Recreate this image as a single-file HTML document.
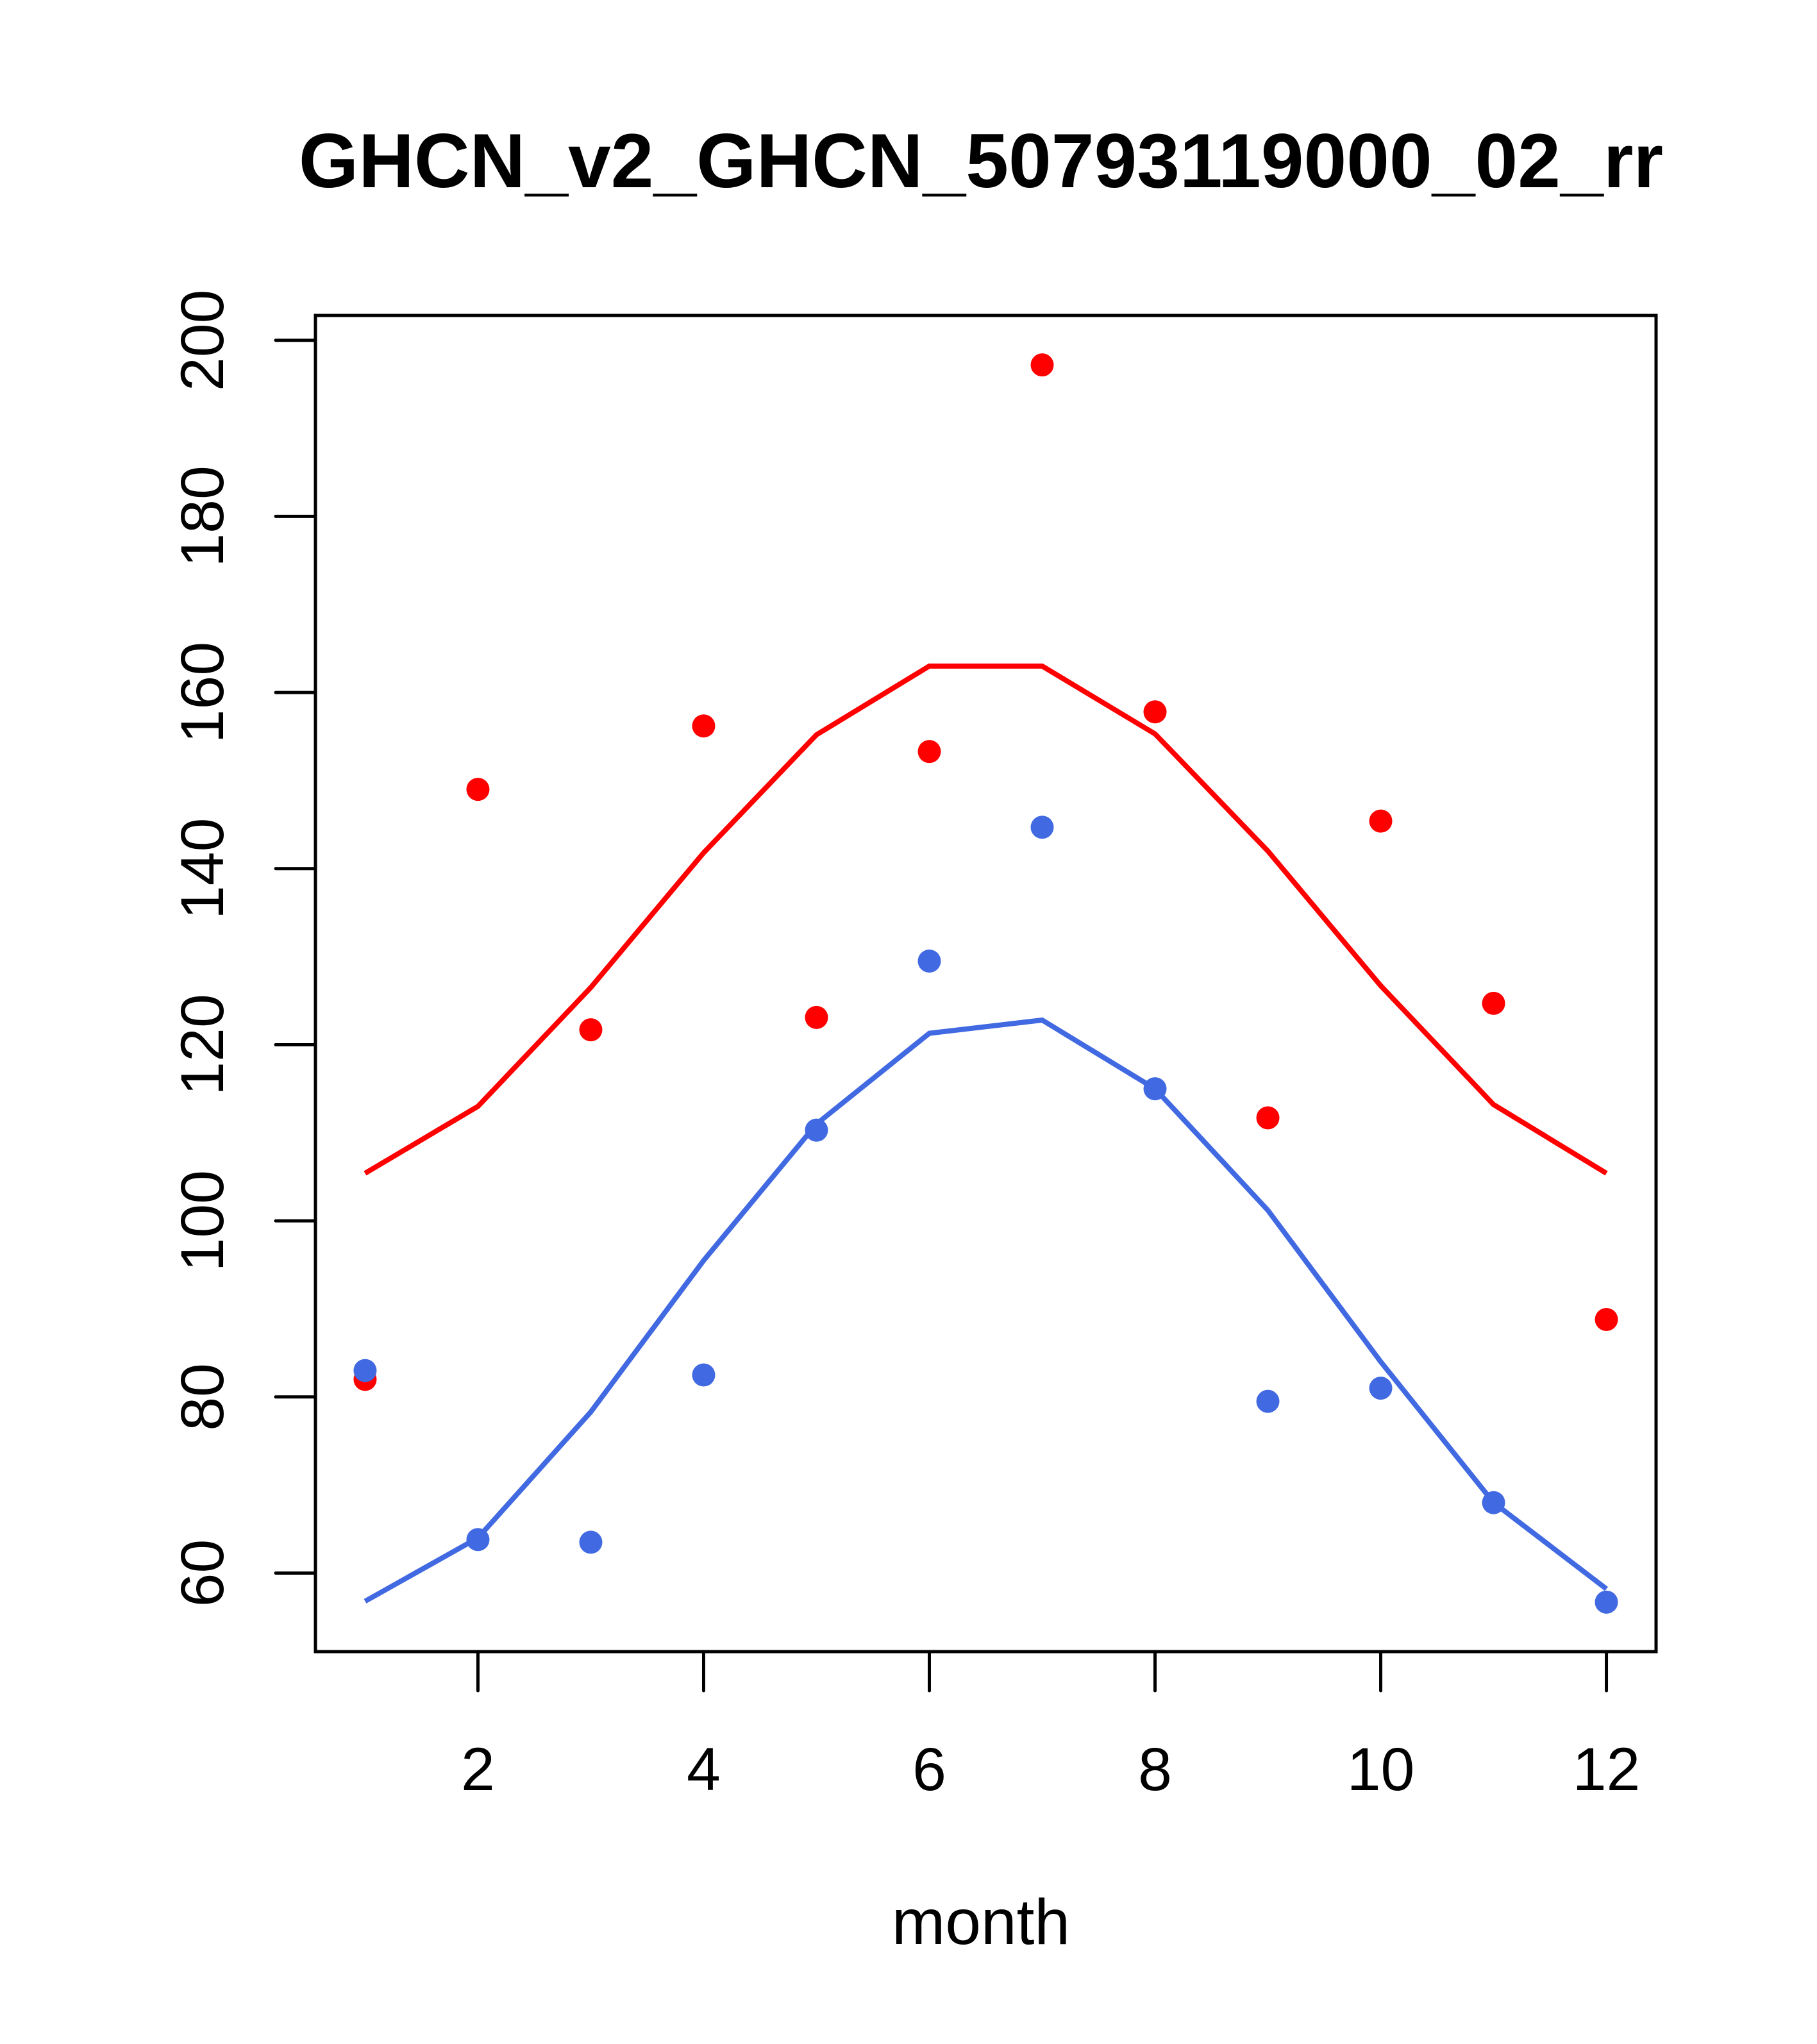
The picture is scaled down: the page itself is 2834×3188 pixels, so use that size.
<!DOCTYPE html>
<html><head><meta charset="utf-8"><style>
body{margin:0;background:#fff}
svg{display:block}
text{font-family:"Liberation Sans",sans-serif;fill:#000}
</style></head><body>
<svg id="chart" width="2834" height="3188" viewBox="0 0 2834 3188" xmlns="http://www.w3.org/2000/svg">
<text x="1530" y="292" font-size="120" font-weight="bold" text-anchor="middle">GHCN_v2_GHCN_50793119000_02_rr</text>
<rect x="492" y="492" width="2091" height="2084" fill="none" stroke="#000" stroke-width="5"/>
<g id="xaxis"></g>
<g id="yaxis"></g>
<text x="1530" y="3032" font-size="100" text-anchor="middle">month</text>
<g id="series"></g>
</svg>
<script>
const months=[1,2,3,4,5,6,7,8,9,10,11,12];
const redPoints=[82,149,121.7,156.2,123.1,153.3,197.2,157.8,111.7,145.4,124.7,88.8];
const redLine=[105.4,113,126.5,141.8,155.2,163,163,155.3,142,126.7,113.2,105.4];
const bluePoints=[83,63.8,63.5,82.5,110.3,129.5,144.7,115,79.5,81,68,56.7];
const blueLine=[56.8,64,78.3,95.5,111,121.3,122.8,115,101.2,84,68,58.2];
const xTicks=[2,4,6,8,10,12];
const yTicks=[60,80,100,120,140,160,180,200];

const NS="http://www.w3.org/2000/svg";
const L=492,R=2583,T=492,B=2576;
const xmin=0.56,xmax=12.44,ymin=51.08,ymax=202.82;
const sx=v=>L+(v-xmin)/(xmax-xmin)*(R-L);
const sy=v=>B-(v-ymin)/(ymax-ymin)*(B-T);
function mk(tag,attrs,parent){const e=document.createElementNS(NS,tag);for(const k in attrs)e.setAttribute(k,attrs[k]);parent.appendChild(e);return e;}
const xa=document.getElementById('xaxis'),ya=document.getElementById('yaxis'),sg=document.getElementById('series');
mk('line',{x1:sx(2),x2:sx(12),y1:B,y2:B,stroke:'#000','stroke-width':5},xa);
xTicks.forEach(t=>{
  const l=mk('line',{x1:sx(t),x2:sx(t),y1:B,y2:B+61,stroke:'#000','stroke-width':5,'stroke-linecap':'round'},xa);
  
  
  const tx=mk('text',{x:sx(t),y:2792,'font-size':95,'text-anchor':'middle'},xa);tx.textContent=t;
  
  
});
yTicks.forEach(t=>{
  const l=mk('line',{x1:430,x2:L,y1:sy(t),y2:sy(t),stroke:'#000','stroke-width':5,'stroke-linecap':'round'},ya);
  
  
  const y=sy(t);
  const tx=mk('text',{x:348,y:y,'font-size':95,'text-anchor':'middle',transform:`rotate(-90 348 ${y})`},ya);tx.textContent=t;
  
  
});
function line(vals,col,name){
  const p=mk('polyline',{points:months.map((m,i)=>sx(m)+','+sy(vals[i])).join(' '),fill:'none',stroke:col,'stroke-width':8},sg);
  
  
}
function pts(vals,col,name){
  vals.forEach((v,i)=>{
    const c=mk('circle',{cx:sx(months[i]),cy:sy(v),r:18,fill:col},sg);
    
    
  });
}
line(redLine,'#ff0000','red-line');
line(blueLine,'#4169e1','blue-line');
pts(redPoints,'#ff0000','red-point');
pts(bluePoints,'#4169e1','blue-point');
</script>
</body></html>
